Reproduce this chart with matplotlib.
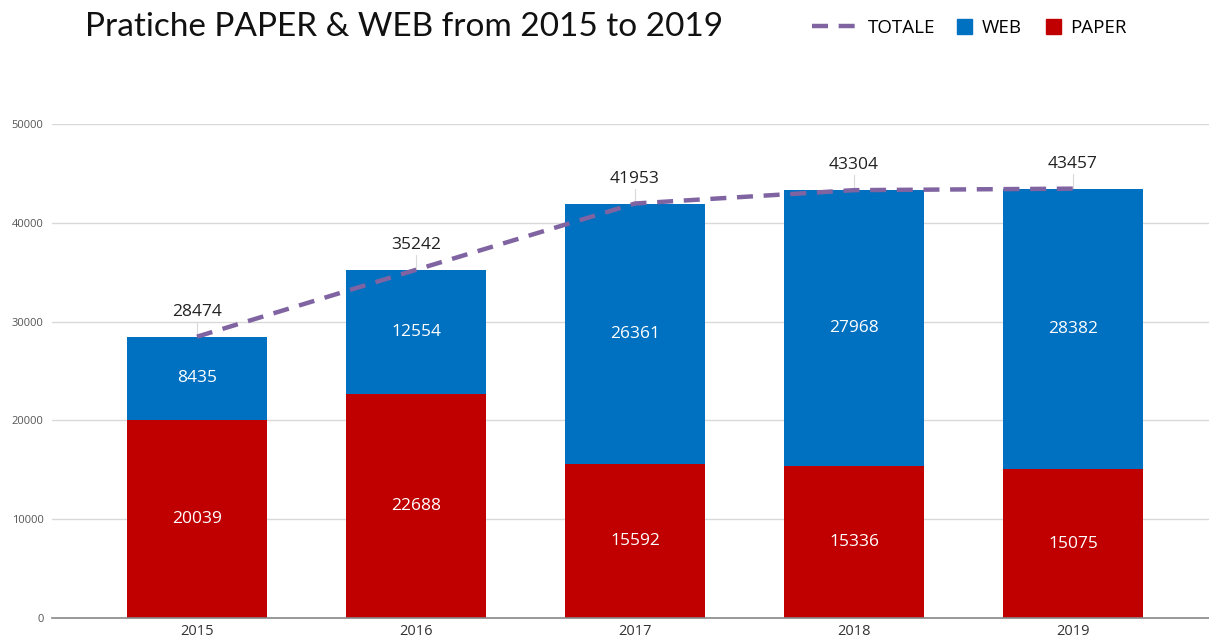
import matplotlib
matplotlib.use("Agg")
import matplotlib.pyplot as plt
from matplotlib.lines import Line2D
from matplotlib.patches import Patch
import numpy as np

years = ["2015", "2016", "2017", "2018", "2019"]
paper = [20039, 22688, 15592, 15336, 15075]
web = [8435, 12554, 26361, 27968, 28382]
totale = [28474, 35242, 41953, 43304, 43457]
yticks = [0, 10000, 20000, 30000, 40000, 50000]

BLUE = "#0070C0"
RED = "#C00000"
PURPLE = "#8064A2"
DASH = (0, (3.6, 2.4))

fig = plt.figure(figsize=(12.09, 6.39), dpi=100)
ax = fig.add_axes([52/1209, 1-618/639, (1209-52)/1209, (618-124)/639])

x = np.arange(len(years))
w = 0.64
ax.bar(x, paper, w, color=RED, zorder=2)
ax.bar(x, web, w, bottom=paper, color=BLUE, zorder=2)
ax.plot(x, totale, color=PURPLE, lw=3.2, ls=DASH, zorder=3, dash_capstyle="butt")

for i in range(len(years)):
    ax.text(x[i], paper[i]/2, str(paper[i]), ha="center", va="center", color="white",
            fontsize=12.5, family="Open Sans", zorder=4)
    ax.text(x[i], paper[i] + web[i]/2, str(web[i]), ha="center", va="center", color="white",
            fontsize=12.5, family="Open Sans", zorder=4)
    ax.plot([x[i], x[i]], [totale[i], totale[i] + 1500], color="#d9d9d9", lw=0.8, zorder=1)
    ax.text(x[i], totale[i] + 2500, str(totale[i]), ha="center", va="center", color="#222222",
            fontsize=12.5, family="Open Sans", zorder=4)

ax.set_xlim(-0.662, 4.621)
ax.set_ylim(0, 50000)
ax.set_yticks(yticks)
ax.set_yticklabels([str(v) for v in yticks], fontsize=8, color="#555555", family="Open Sans")
ax.set_xticks(x)
ax.set_xticklabels(years, fontsize=10.5, color="#333333", family="Open Sans")
ax.tick_params(axis="both", length=0)
ax.tick_params(axis="y", pad=6)
ax.tick_params(axis="x", pad=4)
ax.yaxis.grid(True, color="#d9d9d9", lw=1, zorder=0)
for s in ["top", "right", "left"]:
    ax.spines[s].set_visible(False)
ax.spines["bottom"].set_color("#888888")
ax.spines["bottom"].set_linewidth(1.2)

fig.text(85/1209, 1-27/639, "Pratiche PAPER & WEB from 2015 to 2019", fontsize=24,
         family="Lato", va="center", ha="left", color="#111111")

prop = {"family": "Open Sans", "size": 13.5}
leg1 = fig.legend([Line2D([0], [0], color=PURPLE, lw=3.2, ls=DASH)], ["TOTALE"],
                  loc="center left", bbox_to_anchor=(812/1209, 1-28/639), frameon=False,
                  prop=prop, handlelength=2.5, handletextpad=0.5, borderpad=0, borderaxespad=0)
leg2 = fig.legend([Patch(color=BLUE)], ["WEB"],
                  loc="center left", bbox_to_anchor=(957/1209, 1-28/639), frameon=False,
                  prop=prop, handlelength=0.8, handleheight=0.8, handletextpad=0.5,
                  borderpad=0, borderaxespad=0)
leg3 = fig.legend([Patch(color=RED)], ["PAPER"],
                  loc="center left", bbox_to_anchor=(1046/1209, 1-28/639), frameon=False,
                  prop=prop, handlelength=0.8, handleheight=0.8, handletextpad=0.5,
                  borderpad=0, borderaxespad=0)

fig.savefig("out.png", dpi=100)
